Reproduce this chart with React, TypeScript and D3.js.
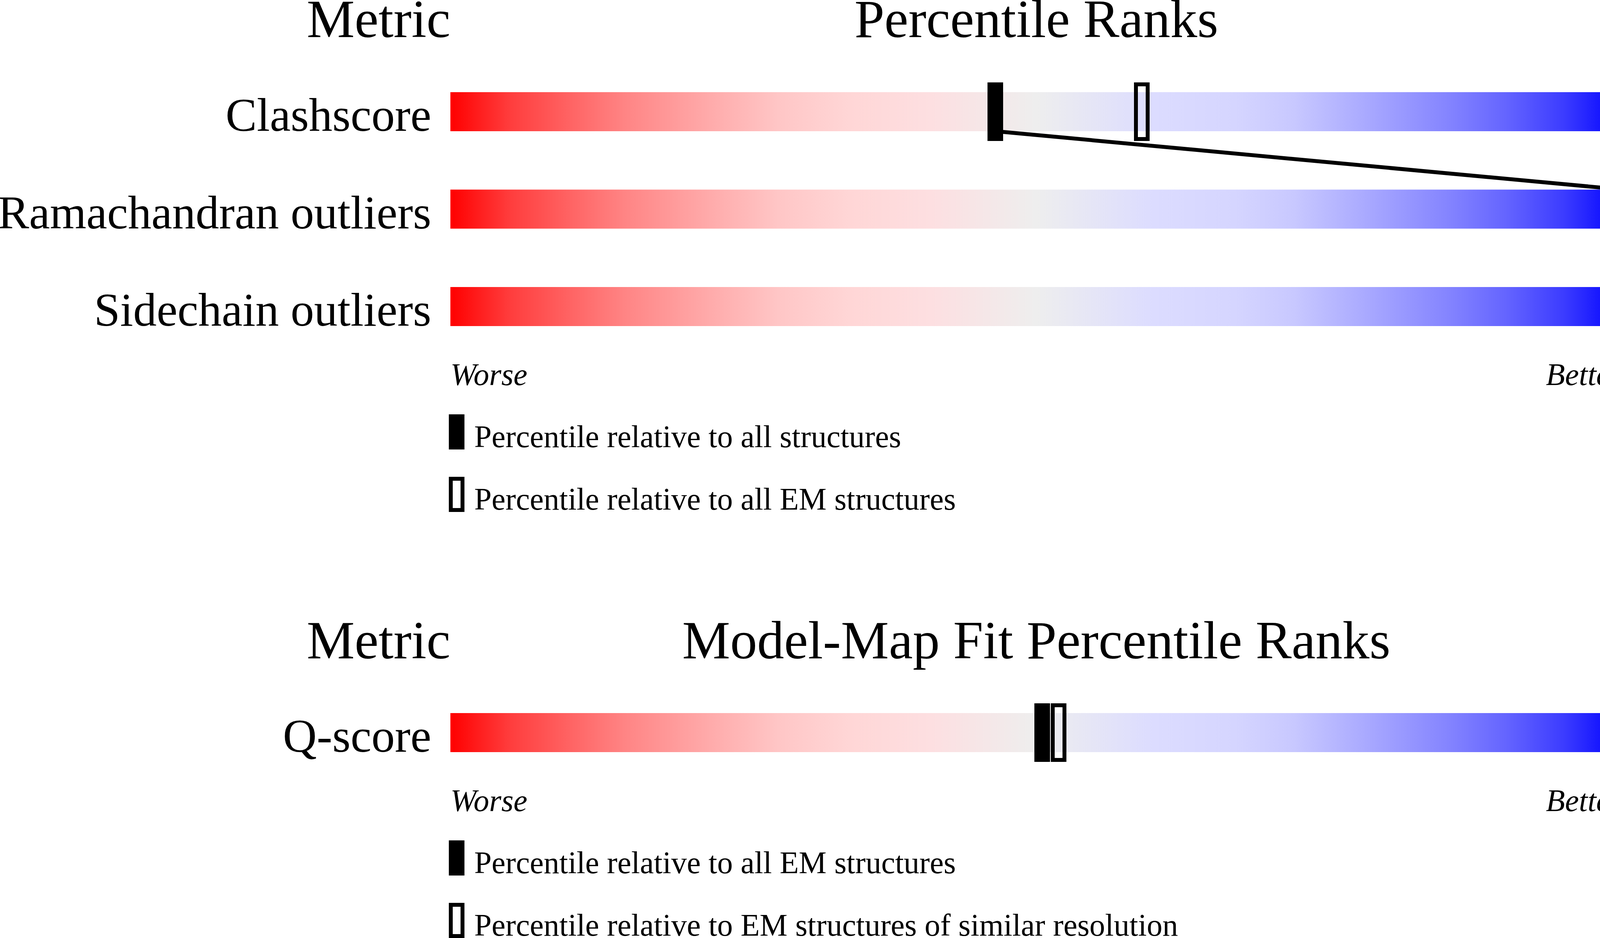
import * as d3 from "d3";

// validation metrics (top panel)
const metrics = ["Clashscore", "Ramachandran outliers", "Sidechain outliers"];
const metricValues = ["6", "0", "0"];
const pctAll = [46.5, 100, 100];
const pctEM: (number | null)[] = [59.0, null, null];
const legendTop = ["Percentile relative to all structures", "Percentile relative to all EM structures"];

// model-map fit (bottom panel)
const fitMetrics = ["Q-score"];
const fitValues = ["0.443"];
const fitPctEM = [50.5];
const fitPctRes = [51.9];
const legendBottom = ["Percentile relative to all EM structures", "Percentile relative to EM structures of similar resolution"];

const gradStops: [number, string][] = [
    [0, "#ff0000"],
    [0.05, "#ff3c3c"],
    [0.1, "#ff6262"],
    [0.15, "#ff8585"],
    [0.22, "#ffaaaa"],
    [0.28, "#ffc6c6"],
    [0.34, "#ffd6d6"],
    [0.41, "#fddfe1"],
    [0.5, "#eeeeee"],
    [0.6, "#dcdcff"],
    [0.67, "#d5d5ff"],
    [0.72, "#c8c8ff"],
    [0.78, "#aaaaff"],
    [0.85, "#8585ff"],
    [0.9, "#6565ff"],
    [0.95, "#3c3cff"],
    [1, "#0000ff"]
];

const W = 4485;
const H = 2402;
const font = "'Liberation Serif', 'Times New Roman', serif";

const x = d3.scaleLinear().domain([0, 100]).range([1153, 4153]);
const yTop = d3.scaleLinear().domain([0, metrics.length - 1]).range([236, 735]);
const yBottom = d3.scaleLinear().domain([0, 1]).range([1826, 2075]);
const barH = 100;
const mW = 40;
const mH = 150;

function Marker({ cx, top, open }: { cx: number; top: number; open?: boolean }) {
    if (open) {
        return <rect x={cx - mW / 2 + 5} y={top - 25 + 5} width={mW - 10} height={mH - 10} fill="none" stroke="#000" strokeWidth={10} />;
    }
    return <rect x={cx - mW / 2} y={top - 25} width={mW} height={mH} fill="#000" />;
}

function Panel({ title, names, values, top, pA, pB, legend, titleY }: {
    title: string;
    names: string[];
    values: string[];
    top: (i: number) => number;
    pA: number[];
    pB: (number | null)[];
    legend: string[];
    titleY: number;
}) {
    const last = top(names.length - 1) + barH;
    const worseY = last + 151;
    const line = d3.line<[number, number]>();
    return (
        <g>
            <text x={x(0)} y={titleY} fontSize={138} textAnchor="end">Metric</text>
            <text x={(x(0) + x(100)) / 2} y={titleY} fontSize={138} textAnchor="middle">{title}</text>
            <text x={W} y={titleY} fontSize={135} textAnchor="end">Value</text>
            {names.map((n, i) => (
                <g key={n}>
                    <rect x={x(0)} y={top(i)} width={x(100) - x(0)} height={barH} fill="url(#grad)" />
                    <text x={1104} y={top(i) + 99} fontSize={120} textAnchor="end">{n}</text>
                    <text x={4205} y={top(i) + 100} fontSize={120}>{values[i]}</text>
                </g>
            ))}
            {pA.slice(1).map((p, i) => (
                <path key={"l" + i} d={String(line([[x(pA[i]), top(i) + barH], [x(p), top(i + 1)]]))} stroke="#000" strokeWidth={10} fill="none" />
            ))}
            {names.map((n, i) => (
                <g key={"m" + n}>
                    {pB[i] != null && <Marker cx={x(pB[i] as number)} top={top(i)} open />}
                    <Marker cx={x(pA[i])} top={top(i)} />
                </g>
            ))}
            <text x={x(0)} y={worseY} fontSize={80} fontStyle="italic">Worse</text>
            <text x={x(100)} y={worseY} fontSize={80} fontStyle="italic" textAnchor="end">Better</text>
            {legend.map((t, i) => {
                const ly = worseY + 75 + i * 160;
                return (
                    <g key={t}>
                        {i === 0
                            ? <rect x={1149} y={ly} width={40} height={90} fill="#000" />
                            : <rect x={1154} y={ly + 5} width={30} height={80} fill="none" stroke="#000" strokeWidth={10} />}
                        <text x={1214} y={ly + 84} fontSize={80}>{t}</text>
                    </g>
                );
            })}
        </g>
    );
}

export default function App() {
    return (
        <svg width={W} height={H} style={{ position: "absolute", left: 0, top: 0, background: "#fff" }} fontFamily={font}>
            <defs>
                <linearGradient id="grad" x1="0" x2="1" y1="0" y2="0">
                    {gradStops.map(([o, c]) => (
                        <stop key={o} offset={o} stopColor={c} />
                    ))}
                </linearGradient>
            </defs>
            <rect width={W} height={H} fill="#fff" />
            <Panel
                title="Percentile Ranks"
                names={metrics}
                values={metricValues}
                top={yTop}
                pA={pctAll}
                pB={pctEM}
                legend={legendTop}
                titleY={95}
            />
            <Panel
                title="Model-Map Fit Percentile Ranks"
                names={fitMetrics}
                values={fitValues}
                top={yBottom}
                pA={fitPctEM}
                pB={fitPctRes}
                legend={legendBottom}
                titleY={1686}
            />
        </svg>
    );
}
